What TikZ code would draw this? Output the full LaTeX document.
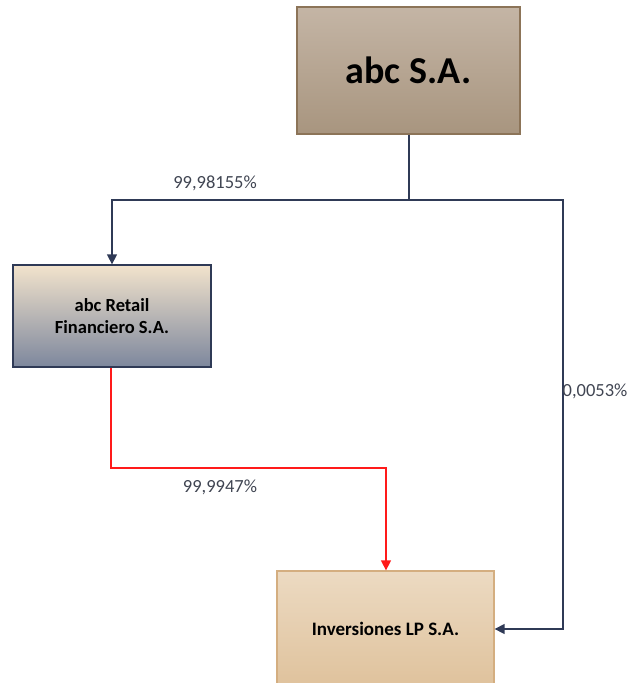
\documentclass[tikz,border=0pt]{standalone}
\usepackage{fontspec}
\setmainfont{Carlito}
\usetikzlibrary{arrows.meta}
\definecolor{navy}{HTML}{2F3A56}
\definecolor{lbl}{HTML}{404552}
\definecolor{redl}{HTML}{FF1A1A}
\definecolor{topT}{HTML}{C4B5A5}
\definecolor{topB}{HTML}{A8957F}
\definecolor{topD}{HTML}{8C7458}
\definecolor{retT}{HTML}{F2E3CC}
\definecolor{retB}{HTML}{7D879D}
\definecolor{invT}{HTML}{ECDAC2}
\definecolor{invB}{HTML}{DFC29C}
\definecolor{invD}{HTML}{D4AE80}
\begin{document}
\begin{tikzpicture}[x=1pt,y=-1pt,
  box/.style={draw, line width=1.3pt, inner sep=0pt, align=center, font=\bfseries},
  conn/.style={draw=navy, line width=1.4pt, -{Triangle[length=10pt,width=10pt]}},
  redconn/.style={draw=redl, line width=1.4pt, -{Triangle[length=10pt,width=10pt]}},
  pct/.style={text=lbl, font=\fontsize{18.5}{22}\selectfont}]
\useasboundingbox (0,0) rectangle (629,683);
\node[box, draw=topD, top color=topT, bottom color=topB, minimum width=223pt, minimum height=127pt,
  font=\bfseries\fontsize{38}{42}\selectfont] (abc) at (408.5,70.5) {abc S.A.};
\node[box, draw=navy, top color=retT, bottom color=retB, minimum width=198pt, minimum height=102pt,
  font=\bfseries\fontsize{18.5}{22}\selectfont] (ret) at (112,316) {abc Retail\\Financiero S.A.};
\node[box, draw=invD, top color=invT, bottom color=invB, minimum width=217pt, minimum height=116pt,
  font=\bfseries\fontsize{19}{22}\selectfont] (inv) at (385.5,629) {Inversiones LP S.A.};
\coordinate (j) at (409,200);
\coordinate (rj) at (111,468);
\draw[conn] (abc.south -| j) -- (j) -| (ret.north);
\draw[conn] (j) -- (563,200) |- (inv.east);
\draw[redconn] (ret.south -| rj) -- (rj) -| (inv.north -| 386,0);
\node[pct] (l1) at (215,183) {99,98155\%};
\node[pct] (l2) at (595,391) {0,0053\%};
\node[pct] (l3) at (220,487) {99,9947\%};
\end{tikzpicture}
\end{document}
